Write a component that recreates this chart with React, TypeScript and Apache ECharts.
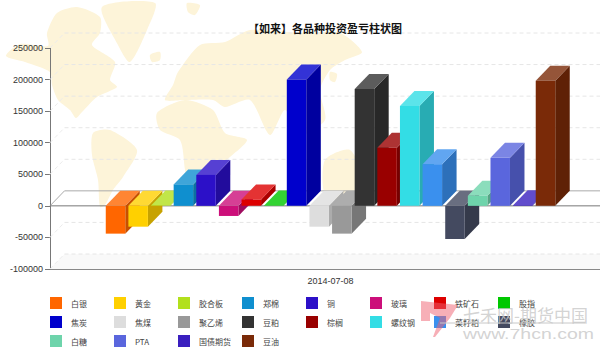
import React, { useEffect, useRef } from "react";
import * as echarts from "echarts";

const dates = ["2014-07-08"];
const yTicks = [250000, 200000, 150000, 100000, 50000, 0, -50000, -100000];
const names = ["白银","黄金","胶合板","郑棉","铜","玻璃","铁矿石","股指","焦炭","焦煤","聚乙烯","豆粕","棕榈","螺纹钢","菜籽粕","橡胶","白糖","PTA","国债期货","豆油"];
const values = [-44000,-33000,500,34000,49000,-16000,10000,500,200000,-33000,-44000,185000,92000,158000,66000,-52500,16000,76000,1000,198000];
const colors = ["#ff6600","#ffd000","#b2e01c","#0f8fcf","#2c10c8","#cc0f7a","#dd0000","#00c800","#0000cc","#dddddd","#999999","#333333","#990000","#33dde5","#3a90ee","#444a60","#6ed4ab","#5a66dd","#3a1fbf","#7a2a08"];

const STEP = 22.63, BAR = 19.5, DX = 14.5, DY = 15;

function mix(hex: string, target: number, t: number) {
  const n = parseInt(hex.slice(1), 16);
  const c = [(n >> 16) & 255, (n >> 8) & 255, n & 255].map((v) => Math.round(v + (target - v) * t));
  return `rgb(${c[0]},${c[1]},${c[2]})`;
}

const mapShapes: number[][][] = [
  [[6,56],[20,44],[48,46],[47,33],[57,13],[77,7],[100,17],[100,33],[92,45],[115,62],[110,80],[117,87],[97,97],[82,112],[76,118],[70,110],[58,100],[52,85],[50,72],[25,62]],
  [[93,133],[110,130],[137,150],[123,177],[113,190],[105,205],[100,207],[98,180],[92,155]],
  [[102,7],[155,3],[147,30],[130,62],[118,45]],
  [[157,113],[185,100],[213,110],[225,133],[247,140],[227,160],[213,177],[205,195],[190,195],[185,170],[180,140],[160,130]],
  [[173,85],[178,72],[200,45],[225,42],[250,30],[300,33],[340,33],[362,52],[345,60],[330,70],[320,90],[325,120],[300,135],[285,110],[270,135],[250,100],[225,107],[213,100],[185,100],[165,100]],
  [[325,160],[350,150],[362,180],[345,200],[325,195]],
  [[150,55],[160,52],[160,60],[152,62]],
  [[187,3],[200,5],[195,15],[188,12]],
  [[330,72],[337,74],[335,82],[330,80]],
];

export default function App() {
  const ref = useRef<HTMLDivElement>(null);
  useEffect(() => {
    document.body.style.margin = "0";
    const chart = echarts.init(ref.current!, undefined, { renderer: "svg" });

    const wall = {
      type: "custom",
      silent: true,
      z: 1,
      data: yTicks.map((v) => [0, v]),
      renderItem: (params: any, api: any) => {
        const v = api.value(1);
        const y = api.coord([0, v])[1];
        const left = params.coordSys.x;
        const right = left + params.coordSys.width;
        const children: any[] = [];
        if (v === -100000) {
          children.push({
            type: "polygon",
            shape: { points: [[left, y], [left + DX, y - DY], [right, y - DY], [right, y]] },
            style: { fill: "#f9f9f9" },
          });
        }
        const solid = v === 0;
        children.push({
          type: "line",
          shape: { x1: left + DX, y1: y - DY, x2: right, y2: y - DY },
          style: { stroke: solid ? "#aaaaaa" : "#e6e6e6", lineWidth: 1, lineDash: solid ? null : [4, 3] },
        });
        children.push({
          type: "line",
          shape: { x1: left, y1: y, x2: left + DX, y2: y - DY },
          style: { stroke: solid ? "#aaaaaa" : "#ececec", lineWidth: 1, lineDash: solid ? null : [4, 3] },
        });
        if (solid) {
          children.push({
            type: "line",
            shape: { x1: left, y1: y, x2: right, y2: y },
            style: { stroke: "#777777", lineWidth: 1 },
          });
        }
        return { type: "group", children };
      },
    };

    const bars = names.map((name, i) => ({
      type: "custom",
      name,
      z: 2,
      itemStyle: { color: colors[i] },
      data: [[0, values[i]]],
      renderItem: (_p: any, api: any) => {
        const color = colors[i];
        const [cx, yv] = api.coord([api.value(0), api.value(1)]);
        const y0 = api.coord([0, 0])[1];
        const x = cx + (i - (names.length - 1) / 2) * STEP - BAR / 2;
        const yt = Math.min(yv, y0);
        const yb = Math.max(yv, y0);
        return {
          type: "group",
          children: [
            { type: "polygon", shape: { points: [[x + BAR, yt], [x + BAR + DX, yt - DY], [x + BAR + DX, yb - DY], [x + BAR, yb]] }, style: { fill: mix(color, 0, 0.22) } },
            { type: "polygon", shape: { points: [[x, yt], [x + DX, yt - DY], [x + BAR + DX, yt - DY], [x + BAR, yt]] }, style: { fill: mix(color, 255, 0.2) } },
            { type: "rect", shape: { x, y: yt, width: BAR, height: yb - yt }, style: { fill: color } },
          ],
        };
      },
    }));

    const legendLabel = { fontFamily: "'Noto Sans CJK SC', sans-serif", fontSize: 8, color: "#444444", padding: [0, 0, 0, 4] };

    chart.setOption({
      animation: false,
      backgroundColor: "#ffffff",
      title: {
        text: "【如来】各品种投资盈亏柱状图",
        left: 320,
        textAlign: "center",
        top: 17,
        textStyle: { fontFamily: "'Noto Sans CJK SC', sans-serif", fontSize: 11, fontWeight: "bold", color: "#111111" },
      },
      grid: { left: 50, right: -11, top: 48, bottom: 85, outerBoundsMode: "none" },
      xAxis: {
        type: "category",
        data: dates,
        position: "bottom",
        axisLine: { onZero: false, lineStyle: { color: "#888888", width: 1 } },
        axisTick: { alignWithLabel: true, length: 4, lineStyle: { color: "#666666" } },
        axisLabel: { fontFamily: "'Liberation Sans', Arial, sans-serif", fontSize: 9, color: "#333333", margin: 7 },
      },
      yAxis: {
        type: "value",
        min: -100000,
        max: 250000,
        interval: 50000,
        axisLine: { show: true, lineStyle: { color: "#777777", width: 1 } },
        axisTick: { show: true, length: 5, lineStyle: { color: "#777777" } },
        axisLabel: { fontFamily: "'Liberation Sans', Arial, sans-serif", fontSize: 9, color: "#333333", margin: 7, formatter: (v: number) => String(v) },
        splitLine: { show: false },
      },
      legend: names.map((name, i) => ({
        data: [{ name, icon: "rect" }],
        left: 50 + (i % 8) * 64,
        top: 297 + Math.floor(i / 8) * 19,
        padding: 0,
        itemWidth: 12,
        itemHeight: 12,
        selectedMode: false,
        textStyle: legendLabel,
      })),
      graphic: [
        ...mapShapes.map((points) => ({
          type: "polygon",
          z: -1,
          silent: true,
          shape: { points, smooth: 0.25 },
          style: { fill: "#fdf4d9" },
        })),
        { type: "polygon", z: 50, silent: true, shape: { points: [[421,301],[458,305],[450,318],[435,337],[433,337],[440,318],[430,313],[430,321],[421,321]] }, style: { fill: "#f06070", opacity: 0.5 } },
        { type: "text", z: 50, silent: true, x: 463, y: 306, style: { text: "七禾网-期货中国", fontFamily: "'Noto Sans CJK SC', sans-serif", fontSize: 17, fill: "#c8c8c8", opacity: 0.8 } },
        { type: "line", z: 50, silent: true, shape: { x1: 440, y1: 323, x2: 585, y2: 323 }, style: { stroke: "#c8c8c8", lineWidth: 1 } },
        { type: "text", z: 50, silent: true, x: 463, y: 326, scaleX: 1.3, style: { text: "www.7hcn.com", fontFamily: "'Liberation Sans', sans-serif", fontSize: 15, fill: "#c8c8c8", opacity: 0.8 } },
      ],
      series: [wall, ...bars],
    });
    return () => chart.dispose();
  }, []);
  return <div ref={ref} style={{ width: 600, height: 354 }} />;
}
